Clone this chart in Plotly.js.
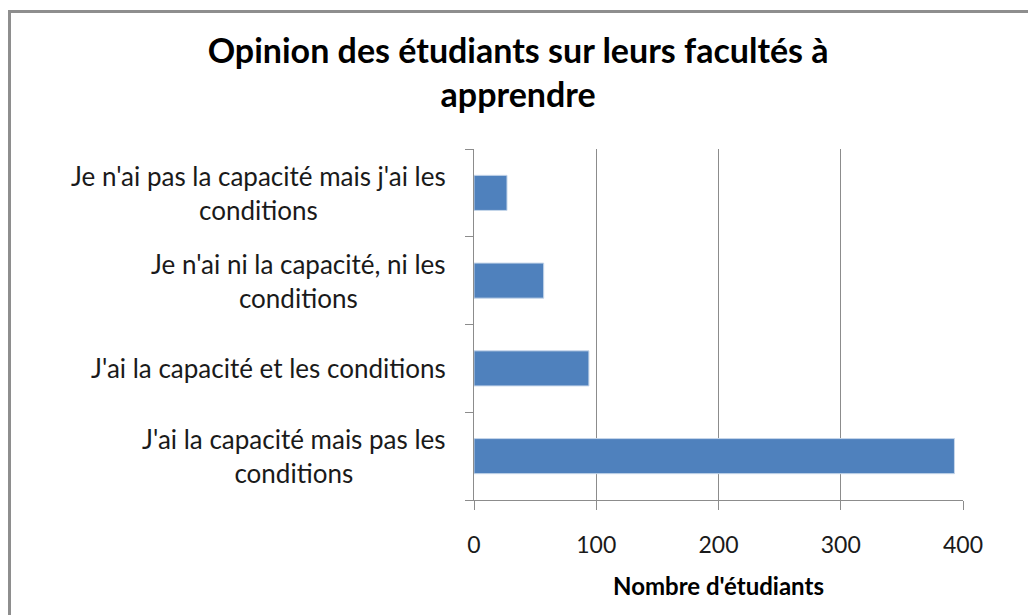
<!DOCTYPE html>
<html><head><meta charset="utf-8">
<script src="https://cdn.plot.ly/plotly-3.0.1.min.js"></script>
<style>
html,body{margin:0;padding:0;background:#fff;}
#wrap{position:relative;width:1028px;height:615px;}
#chart{width:1028px;height:615px;}
#frame{position:absolute;left:8px;top:10px;width:1030px;height:620px;border-left:3px solid #8e8e8e;border-top:3px solid #8e8e8e;pointer-events:none;}
</style></head>
<body><div id="wrap"><div id="chart"></div><div id="frame"></div></div>
<script>
const categories = [
  "J'ai la capacité mais pas les<br>conditions",
  "J'ai la capacité et les conditions",
  "Je n'ai ni la capacité, ni les<br>conditions",
  "Je n'ai pas la capacité mais j'ai les<br>conditions"
];
const values = [393, 94, 57, 27];
const xTicks = [0, 100, 200, 300, 400];

const font = "Lato, Open Sans, sans-serif";
const labelAnnotations = categories.map(c => ({
  xref: 'paper', yref: 'y', x: 0, y: c, xanchor: 'right', yanchor: 'middle',
  xshift: -26, text: c, align: 'center', showarrow: false,
  font: {family: font, size: 26, color: '#1a1a1a'}
}));

Plotly.newPlot('chart', [{
  type: 'bar', orientation: 'h',
  y: categories, x: values,
  marker: {color: '#4f81bd', line: {color: '#c6d6ea', width: 1}},
  width: 0.4, hoverinfo: 'x'
}], {
  width: 1028, height: 615,
  margin: {l: 474, r: 65, t: 149, b: 115, pad: 0},
  paper_bgcolor: '#fff', plot_bgcolor: '#fff',
  font: {family: font, color: '#1a1a1a', size: 23},
  title: {text: "<b>Opinion des étudiants sur leurs facultés à<br>apprendre</b>",
    font: {family: font, size: 34, color: '#000'}, x: 0.504, xanchor: 'center', y: 0.898, yanchor: 'middle'},
  xaxis: {range: [0, 400], tickvals: xTicks, ticktext: xTicks.map(String),
    showgrid: true, gridcolor: '#8c8c8c', gridwidth: 1,
    showline: true, linecolor: '#8c8c8c', linewidth: 1,
    ticks: 'outside', ticklen: 9, tickcolor: '#8c8c8c',
    ticklabelstandoff: 15, zeroline: false, fixedrange: true,
    tickfont: {size: 23, color: '#1a1a1a'},
    title: {text: "<b>Nombre d'étudiants</b>", font: {size: 24, color: '#000'}, standoff: 21}},
  yaxis: {type: 'category', showline: true, linecolor: '#8c8c8c', linewidth: 1,
    ticks: 'outside', ticklen: 8, tickcolor: '#8c8c8c', tickson: 'boundaries',
    showgrid: false, showticklabels: false, fixedrange: true},
  annotations: labelAnnotations,
  bargap: 0.6, showlegend: false
}, {displayModeBar: false, staticPlot: true});
</script></body></html>
